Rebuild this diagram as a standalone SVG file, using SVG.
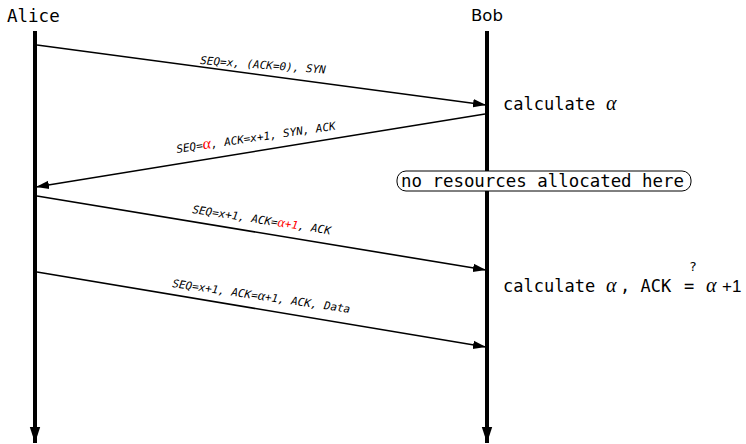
<svg xmlns="http://www.w3.org/2000/svg" width="746" height="444" viewBox="0 0 746 444">
  <defs>
    <marker id="msgHead" markerUnits="userSpaceOnUse" markerWidth="14" markerHeight="10" refX="13" refY="5" orient="auto">
      <path d="M0,0.8 L13,5 L0,9.2 Z" fill="#000"/>
    </marker>
    <marker id="lifeHead" markerUnits="userSpaceOnUse" markerWidth="18" markerHeight="12" refX="16" refY="6" orient="auto">
      <path d="M0,0.8 L16,6 L0,11.2 Z" fill="#000"/>
    </marker>
    <style>
      .mono { font-family: "DejaVu Sans Mono", "Liberation Mono", monospace; fill: #000; }
      .actor { font-size: 17.5px; }
      .note { font-size: 17px; }
      .lbl { font-family: "DejaVu Sans Mono", "Liberation Mono", monospace; font-size: 11px; font-style: italic; fill: #000; }
      .greek { font-family: "Liberation Serif", "DejaVu Serif", serif; font-style: italic; }
      .red { fill: #ff0000; }
      .life { stroke: #000; stroke-width: 4; fill: none; }
      .msg { stroke: #000; stroke-width: 1.6; fill: none; }
      .box { fill: #fff; stroke: #000; stroke-width: 1; }
    </style>
  </defs>
  <rect width="746" height="444" fill="#fff"/>

  <!-- participants and their lifelines -->
  <g id="alice">
    <text class="mono actor" x="7" y="22">Alice</text>
    <line class="life" x1="35" y1="31" x2="35" y2="443" marker-end="url(#lifeHead)"/>
  </g>
  <g id="bob">
    <text x="487" y="21" text-anchor="middle" font-family="'DejaVu Sans', sans-serif" font-size="16.5">Bob</text>
    <line class="life" x1="487" y1="31" x2="487" y2="443" marker-end="url(#lifeHead)"/>
  </g>

  <!-- messages -->
  <g id="connectors">
    <line class="msg" x1="37" y1="45" x2="486" y2="105" marker-end="url(#msgHead)"/>
    <line class="msg" x1="485" y1="114" x2="36" y2="187" marker-end="url(#msgHead)"/>
    <line class="msg" x1="37" y1="196" x2="486" y2="270" marker-end="url(#msgHead)"/>
    <line class="msg" x1="37" y1="272" x2="486" y2="347" marker-end="url(#msgHead)"/>

    <text class="lbl" transform="translate(200,64) rotate(4.3)">SEQ=x, (ACK=0), SYN</text>
    <text class="lbl" transform="translate(177,153) rotate(-8.4)">SEQ=<tspan class="greek red" font-size="16">α</tspan>, ACK=x+1, SYN, ACK</text>
    <text class="lbl" transform="translate(192,213) rotate(8.8)">SEQ=x+1, ACK=<tspan class="red"><tspan class="greek" font-size="14">α</tspan>+1</tspan>, ACK</text>
    <text class="lbl" transform="translate(172,287) rotate(8.3)">SEQ=x+1, ACK=<tspan class="greek" font-size="14">α</tspan>+1, ACK, Data</text>
  </g>

  <!-- annotations at Bob -->
  <g id="calc1">
    <text class="mono note" x="503" y="110">calculate</text>
    <text class="greek" x="606" y="110" font-size="20">α</text>
  </g>
  <g id="note-noalloc">
    <rect class="box" x="397" y="171" width="294" height="20" rx="9" ry="9"/>
    <text class="mono note" x="401" y="187" textLength="283" lengthAdjust="spacingAndGlyphs">no resources allocated here</text>
  </g>
  <g id="calc2">
    <text class="mono note" x="503" y="292">calculate</text>
    <text class="greek" x="606" y="292" font-size="20">α</text>
    <text class="mono note" x="620" y="292">, ACK</text>
    <text class="mono note" x="684" y="292">=</text>
    <text class="mono" x="693" y="271" font-size="13" text-anchor="middle">?</text>
    <text class="greek" x="706" y="292" font-size="20">α</text>
    <text x="722" y="292" font-family="'Liberation Sans', sans-serif" font-size="17">+1</text>
  </g>
</svg>
